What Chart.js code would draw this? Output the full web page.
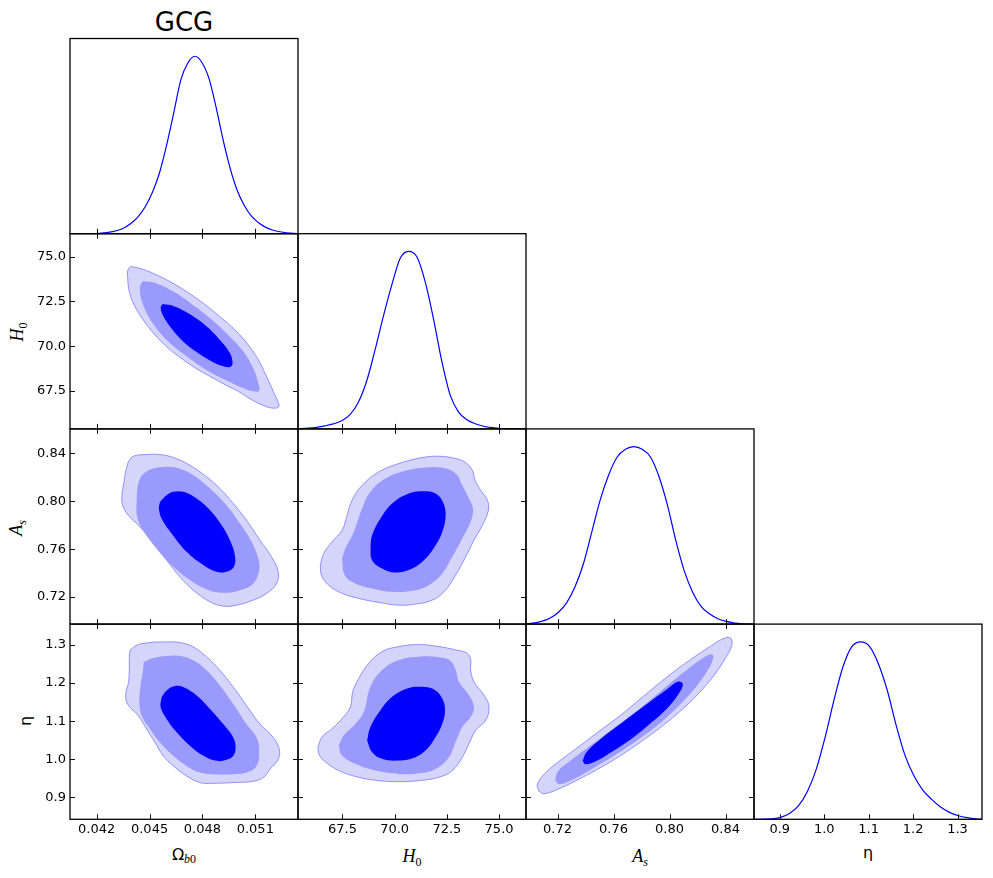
<!DOCTYPE html>
<html><head><meta charset="utf-8">
<script src="https://cdn.jsdelivr.net/npm/chart.js@4.4.1/dist/chart.umd.min.js"></script>
<style>
html,body{margin:0;padding:0;background:#fff;width:993px;height:878px;overflow:hidden;}
#wrap{position:relative;width:993px;height:878px;background:#fff;}
canvas{position:absolute;left:0;top:0;}
.lbl{position:absolute;color:#000;white-space:nowrap;}
.sans{font-family:'DejaVu Sans',sans-serif;}
.math{font-family:'Liberation Serif','DejaVu Serif',serif;font-style:italic;}
.sub{position:relative;top:4px;font-size:12px;}
.up{font-style:normal;}
.rot{transform:translate(-50%,-50%) rotate(-90deg);}
</style></head><body><div id="wrap">
<div class="lbl sans" style="left:70px;width:228px;top:10px;text-align:center;font-size:26px;line-height:25px">GCG</div>
<div class="lbl sans" style="left:70px;width:228px;top:845px;text-align:center;font-size:16px;line-height:20px">Ω<span class="sub math" style="font-size:12px;top:3px">b<span class="up">0</span></span></div>
<div class="lbl math" style="left:298px;width:228px;top:845px;text-align:center;font-size:18px;line-height:22px">H<span class="sub up">0</span></div>
<div class="lbl math" style="left:526px;width:228px;top:845px;text-align:center;font-size:18px;line-height:22px">A<span class="sub">s</span></div>
<div class="lbl sans" style="left:754px;width:228px;top:843px;text-align:center;font-size:16px;line-height:20px">η</div>
<div class="lbl math rot" style="left:17.5px;top:332px;font-size:18px;line-height:22px">H<span class="sub up">0</span></div>
<div class="lbl math rot" style="left:17px;top:527.5px;font-size:18px;line-height:22px">A<span class="sub">s</span></div>
<div class="lbl sans rot" style="left:25.5px;top:721px;font-size:16px;line-height:20px">η</div>
</div>
<script>
// ---------- tick values ----------
const OMEGA_TICKS = [0.042, 0.045, 0.048, 0.051];
const H0_TICKS = [67.5, 70.0, 72.5, 75.0];
const AS_TICKS = [0.72, 0.76, 0.80, 0.84];
const ETA_TICKS = [0.9, 1.0, 1.1, 1.2, 1.3];

// ---------- axis limits ----------
const OMEGA_LIM = [0.040485, 0.053423];
const H0_LIM = [65.37, 76.29];
const AS_LIM = [0.6975, 0.8603];
const ETA_LIM = [0.842, 1.355];
const PDF_LIM = [0, 1.1];

// ---------- 1D marginal curves (normalised to peak) ----------
const omegaGrid = [0.04049, 0.04197, 0.04257, 0.04317, 0.04357, 0.04397, 0.04437, 0.04477, 0.04517, 0.04557, 0.04597, 0.04637, 0.04677, 0.04717, 0.04757, 0.04797, 0.04837, 0.04877, 0.04917, 0.04957, 0.04997, 0.05037, 0.05077, 0.05117, 0.05157, 0.05197, 0.05257, 0.05317, 0.05342];
const omegaPdf  = [0, 0.001, 0.006, 0.018, 0.034, 0.06, 0.098, 0.155, 0.235, 0.345, 0.50, 0.68, 0.865, 0.962, 1.0, 0.965, 0.875, 0.715, 0.53, 0.37, 0.245, 0.16, 0.10, 0.063, 0.037, 0.021, 0.008, 0.002, 0];

const h0Grid = [65.37, 65.86, 66.26, 66.66, 67.06, 67.46, 67.86, 68.26, 68.66, 69.06, 69.46, 69.86, 70.26, 70.66, 71.06, 71.46, 71.86, 72.26, 72.66, 73.06, 73.46, 73.86, 74.26, 74.66, 75.06, 76.29];
const h0Pdf  = [0, 0.004, 0.009, 0.017, 0.028, 0.046, 0.08, 0.15, 0.27, 0.445, 0.635, 0.81, 0.96, 1.0, 0.97, 0.83, 0.62, 0.38, 0.19, 0.095, 0.052, 0.029, 0.015, 0.007, 0.002, 0];

const asGrid = [0.6975, 0.7025, 0.7085, 0.7145, 0.7205, 0.7265, 0.7325, 0.7385, 0.7445, 0.7505, 0.7565, 0.7625, 0.7685, 0.7745, 0.7805, 0.7865, 0.7925, 0.7985, 0.8045, 0.8105, 0.8165, 0.8225, 0.8285, 0.8345, 0.8405, 0.8465, 0.8525, 0.8603];
const asPdf  = [0.002, 0.005, 0.015, 0.033, 0.065, 0.12, 0.21, 0.34, 0.52, 0.70, 0.84, 0.94, 0.985, 1.0, 0.985, 0.94, 0.83, 0.67, 0.47, 0.30, 0.18, 0.10, 0.058, 0.03, 0.015, 0.006, 0.002, 0];

const etaGrid = [0.842, 0.8818, 0.9018, 0.9218, 0.9418, 0.9618, 0.9818, 1.0018, 1.0218, 1.0418, 1.0618, 1.0818, 1.1018, 1.1218, 1.1418, 1.1618, 1.1818, 1.2018, 1.2218, 1.2418, 1.2618, 1.2818, 1.3018, 1.3218, 1.3418, 1.355];
const etaPdf  = [0, 0.002, 0.011, 0.033, 0.075, 0.155, 0.28, 0.46, 0.67, 0.857, 0.972, 1.0, 0.975, 0.877, 0.727, 0.53, 0.36, 0.245, 0.165, 0.112, 0.069, 0.039, 0.020, 0.009, 0.002, 0];

// ---------- 2D contours (inner, middle, outer levels) ----------
// Omega_b0 vs H0
const omH0_outer = [[0.04393,74.46],[0.04446,74.35],[0.04521,74.07],[0.04616,73.61],[0.04710,73.05],[0.04805,72.40],[0.04899,71.65],[0.04984,70.91],[0.05060,70.07],[0.05117,69.24],[0.05164,68.31],[0.05202,67.47],[0.05230,66.85],[0.05232,66.59],[0.05192,66.54],[0.05145,66.69],[0.05079,67.00],[0.05003,67.47],[0.04937,67.80],[0.04861,68.21],[0.04776,68.68],[0.04691,69.24],[0.04606,69.89],[0.04531,70.63],[0.04464,71.47],[0.04413,72.30],[0.04385,73.05],[0.04376,73.79],[0.04377,74.26]];
const omH0_mid = [[0.04461,73.64],[0.04540,73.51],[0.04635,73.05],[0.04739,72.36],[0.04843,71.56],[0.04946,70.63],[0.05032,69.70],[0.05088,68.77],[0.05117,67.93],[0.05122,67.51],[0.05088,67.47],[0.05022,67.69],[0.04946,68.03],[0.04861,68.45],[0.04776,68.96],[0.04691,69.57],[0.04606,70.26],[0.04531,71.10],[0.04480,71.93],[0.04449,72.77],[0.04446,73.33]];
const omH0_in = [[0.04574,72.36],[0.04635,72.25],[0.04729,71.78],[0.04824,71.10],[0.04899,70.35],[0.04956,69.61],[0.04971,69.01],[0.04956,68.83],[0.04909,68.90],[0.04843,69.20],[0.04757,69.74],[0.04682,70.35],[0.04616,71.10],[0.04574,71.75],[0.04563,72.17]];

// Omega_b0 vs A_s
const omAs_outer = [[0.04379,0.8328],[0.04408,0.8375],[0.04483,0.8389],[0.04559,0.8389],[0.04635,0.8364],[0.04729,0.8300],[0.04824,0.8203],[0.04899,0.8106],[0.04975,0.7981],[0.05050,0.7842],[0.05126,0.7675],[0.05192,0.7536],[0.05230,0.7411],[0.05221,0.7314],[0.05164,0.7231],[0.05088,0.7175],[0.04994,0.7133],[0.04918,0.7125],[0.04843,0.7161],[0.04748,0.7258],[0.04672,0.7369],[0.04597,0.7508],[0.04521,0.7647],[0.04446,0.7786],[0.04379,0.7883],[0.04347,0.7967],[0.04343,0.8050],[0.04355,0.8161],[0.04366,0.8258]];
const omAs_mid = [[0.04455,0.8217],[0.04502,0.8264],[0.04578,0.8286],[0.04654,0.8278],[0.04748,0.8217],[0.04843,0.8106],[0.04937,0.7967],[0.05013,0.7814],[0.05079,0.7661],[0.05117,0.7522],[0.05122,0.7425],[0.05088,0.7314],[0.05013,0.7258],[0.04918,0.7236],[0.04824,0.7264],[0.04729,0.7342],[0.04635,0.7453],[0.04540,0.7606],[0.04464,0.7758],[0.04430,0.7869],[0.04427,0.8008],[0.04436,0.8147]];
const omAs_in = [[0.04559,0.7994],[0.04597,0.8050],[0.04635,0.8078],[0.04691,0.8078],[0.04767,0.8022],[0.04843,0.7925],[0.04909,0.7800],[0.04956,0.7675],[0.04984,0.7550],[0.04979,0.7453],[0.04937,0.7411],[0.04880,0.7411],[0.04805,0.7467],[0.04710,0.7578],[0.04625,0.7731],[0.04568,0.7856],[0.04553,0.7939]];

// Omega_b0 vs eta
const omEta_outer = [[0.04389,1.2862],[0.04427,1.2994],[0.04502,1.3065],[0.04597,1.3082],[0.04672,1.3065],[0.04748,1.2950],[0.04824,1.2686],[0.04899,1.2334],[0.04975,1.1894],[0.05050,1.1409],[0.05126,1.0925],[0.05202,1.0572],[0.05236,1.0264],[0.05230,1.0000],[0.05183,0.9736],[0.05145,0.9516],[0.05088,0.9419],[0.04975,0.9384],[0.04861,0.9366],[0.04786,0.9384],[0.04710,0.9560],[0.04635,0.9824],[0.04578,1.0088],[0.04531,1.0440],[0.04483,1.0793],[0.04436,1.1145],[0.04398,1.1321],[0.04370,1.1497],[0.04366,1.1761],[0.04379,1.1982],[0.04385,1.2290],[0.04385,1.2642]];
const omEta_mid = [[0.04468,1.2554],[0.04521,1.2660],[0.04597,1.2713],[0.04672,1.2713],[0.04748,1.2598],[0.04824,1.2334],[0.04899,1.1938],[0.04975,1.1453],[0.05050,1.0925],[0.05107,1.0572],[0.05122,1.0220],[0.05107,0.9824],[0.05050,0.9648],[0.04975,0.9604],[0.04880,0.9595],[0.04786,0.9648],[0.04710,0.9824],[0.04635,1.0088],[0.04559,1.0440],[0.04502,1.0793],[0.04455,1.1145],[0.04442,1.1497],[0.04449,1.1938],[0.04461,1.2290]];
const omEta_in = [[0.04568,1.1629],[0.04597,1.1805],[0.04644,1.1920],[0.04691,1.1894],[0.04767,1.1673],[0.04843,1.1321],[0.04918,1.0925],[0.04975,1.0572],[0.04988,1.0308],[0.04975,1.0088],[0.04937,0.9982],[0.04880,0.9956],[0.04805,1.0088],[0.04729,1.0352],[0.04654,1.0705],[0.04597,1.1057],[0.04563,1.1365]];

// H0 vs A_s
const h0As_outer = [[66.44,0.7467],[66.60,0.7564],[67.00,0.7661],[67.48,0.7758],[67.72,0.7883],[67.96,0.8008],[68.44,0.8133],[69.24,0.8244],[70.20,0.8314],[71.32,0.8364],[72.12,0.8375],[72.92,0.8356],[73.40,0.8322],[73.72,0.8258],[73.85,0.8175],[74.12,0.8092],[74.44,0.8008],[74.49,0.7925],[74.20,0.7800],[73.80,0.7675],[73.40,0.7536],[72.92,0.7383],[72.36,0.7244],[71.80,0.7175],[71.00,0.7142],[70.20,0.7133],[69.24,0.7156],[68.28,0.7189],[67.48,0.7231],[66.84,0.7300],[66.49,0.7383]];
const h0As_mid = [[67.48,0.7522],[67.64,0.7606],[68.04,0.7744],[68.44,0.7939],[68.84,0.8078],[69.56,0.8189],[70.52,0.8253],[71.48,0.8281],[72.28,0.8278],[72.92,0.8231],[73.24,0.8133],[73.56,0.8022],[73.75,0.7939],[73.64,0.7828],[73.24,0.7689],[72.76,0.7536],[72.28,0.7397],[71.64,0.7300],[70.84,0.7253],[69.88,0.7244],[68.92,0.7272],[68.12,0.7314],[67.61,0.7383]];
const h0As_in = [[68.84,0.7633],[68.92,0.7717],[69.32,0.7856],[69.88,0.7981],[70.68,0.8064],[71.40,0.8083],[71.96,0.8064],[72.31,0.7994],[72.44,0.7883],[72.28,0.7744],[71.96,0.7633],[71.48,0.7522],[70.84,0.7439],[70.04,0.7406],[69.40,0.7439],[68.92,0.7508]];

// H0 vs eta
const h0Eta_outer = [[66.33,1.0317],[66.52,1.0581],[67.00,1.0801],[67.48,1.1066],[67.88,1.1374],[67.99,1.1770],[68.28,1.2122],[68.76,1.2519],[69.40,1.2827],[70.20,1.2959],[71.16,1.3012],[72.12,1.2959],[72.92,1.2871],[73.48,1.2783],[73.64,1.2607],[73.64,1.2343],[73.80,1.2034],[74.28,1.1682],[74.52,1.1374],[74.36,1.1022],[73.88,1.0757],[73.56,1.0405],[73.24,1.0053],[72.76,0.9701],[72.12,0.9524],[71.16,0.9436],[70.20,0.9410],[69.24,0.9436],[68.28,0.9524],[67.32,0.9701],[66.60,0.9965],[66.36,1.0141]];
const h0Eta_mid = [[67.32,1.0361],[67.56,1.0625],[68.12,1.0934],[68.52,1.1242],[68.84,1.1902],[69.40,1.2343],[70.20,1.2607],[71.16,1.2695],[72.12,1.2677],[72.68,1.2580],[72.92,1.2343],[73.08,1.2034],[73.56,1.1682],[73.80,1.1374],[73.64,1.1110],[73.24,1.0845],[72.92,1.0449],[72.60,1.0053],[71.96,0.9745],[71.16,0.9630],[70.20,0.9613],[69.08,0.9701],[68.12,0.9877],[67.48,1.0097]];
const h0Eta_in = [[68.68,1.0493],[68.84,1.0845],[69.32,1.1286],[69.88,1.1638],[70.60,1.1858],[71.24,1.1902],[71.88,1.1832],[72.28,1.1594],[72.41,1.1286],[72.28,1.0934],[71.96,1.0581],[71.56,1.0273],[71.00,1.0053],[70.20,0.9965],[69.40,1.0009],[68.92,1.0185]];

// A_s vs eta
const asEta_outer = [[0.7066,0.9163],[0.7056,0.9339],[0.7104,0.9604],[0.7200,0.9912],[0.7328,1.0264],[0.7487,1.0705],[0.7647,1.1145],[0.7806,1.1629],[0.7966,1.2114],[0.8126,1.2554],[0.8285,1.2950],[0.8397,1.3188],[0.8438,1.3171],[0.8445,1.2994],[0.8397,1.2642],[0.8317,1.2202],[0.8205,1.1717],[0.8094,1.1321],[0.7966,1.0925],[0.7806,1.0484],[0.7647,1.0088],[0.7487,0.9736],[0.7328,0.9428],[0.7200,0.9207],[0.7104,0.9093]];
const asEta_mid = [[0.7184,0.9428],[0.7200,0.9664],[0.7296,0.9972],[0.7455,1.0412],[0.7615,1.0853],[0.7775,1.1293],[0.7934,1.1777],[0.8094,1.2262],[0.8221,1.2614],[0.8301,1.2757],[0.8311,1.2642],[0.8269,1.2318],[0.8174,1.1834],[0.8062,1.1393],[0.7934,1.0953],[0.7775,1.0512],[0.7615,1.0116],[0.7455,0.9764],[0.7328,0.9500],[0.7216,0.9341]];
const asEta_in = [[0.7380,0.9950],[0.7407,1.0180],[0.7519,1.0560],[0.7679,1.1010],[0.7838,1.1450],[0.7982,1.1840],[0.8062,1.2040],[0.8095,1.1970],[0.8062,1.1700],[0.7966,1.1270],[0.7838,1.0860],[0.7711,1.0490],[0.7583,1.0180],[0.7471,0.9940],[0.7398,0.9870]];

// ---------- layout ----------
const W = 993, H = 878;
const colEdges = [70, 298, 526, 754, 982];
const rowEdges = [38.5, 233.7, 428.9, 624.1, 819.3];
const Y_AXIS_W = 70, X_AXIS_H = 55;
const C_OUT = '#d5d5fb', C_MID = '#9a9afd', C_IN = '#0000ff', C_EDGE = 'rgba(110,110,255,0.9)';

Chart.defaults.font.family = "'DejaVu Sans', sans-serif";
Chart.defaults.font.size = 13;
Chart.defaults.color = '#000';

const fmt = {
  om: v => v.toFixed(3), h0: v => v.toFixed(1), as: v => v.toFixed(2), eta: v => v.toFixed(1), pdf: v => ''
};

function framePlugin(xt, yt, diag) {
  return {
    id: 'frameTicks',
    afterDraw(chart) {
      const { ctx, chartArea: a, scales } = chart;
      ctx.save();
      ctx.strokeStyle = '#111';
      ctx.lineWidth = 1;
      ctx.beginPath();
      xt.forEach(v => {
        const p = Math.round(scales.x.getPixelForValue(v)) + 0.5;
        ctx.moveTo(p, a.bottom); ctx.lineTo(p, a.bottom - 5);
        if (!diag) { ctx.moveTo(p, a.top); ctx.lineTo(p, a.top + 5); }
      });
      if (!diag) {
        yt.forEach(v => {
          const p = Math.round(scales.y.getPixelForValue(v)) + 0.5;
          ctx.moveTo(a.left, p); ctx.lineTo(a.left + 5, p);
          ctx.moveTo(a.right, p); ctx.lineTo(a.right - 5, p);
        });
      }
      ctx.stroke();
      ctx.strokeStyle = '#000';
      ctx.lineWidth = 1.3;
      ctx.strokeRect(a.left, a.top, a.width, a.height);
      ctx.restore();
    }
  };
}

function axis(pos, lim, ticks, f, show, pad) {
  return {
    type: 'linear', position: pos, min: lim[0], max: lim[1],
    afterFit: s => { if (pos === 'bottom') s.height = X_AXIS_H; else s.width = Y_AXIS_W; },
    afterBuildTicks: s => { s.ticks = ticks.map(v => ({ value: v })); },
    grid: { display: false, drawTicks: false },
    border: { display: false },
    ticks: { display: show, autoSkip: false, maxRotation: 0, minRotation: 0, padding: pad, color: '#000',
             font: { size: 13, family: "'DejaVu Sans', sans-serif" }, callback: v => f(v) }
  };
}

function toPts(arr) {
  const p = arr.map(([x, y]) => ({ x, y }));
  p.push({ x: arr[0][0], y: arr[0][1] });
  return p;
}

function contourSets(outer, mid, inner) {
  const base = { showLine: true, fill: 'shape', pointRadius: 0, tension: 0.4 };
  return [
    Object.assign({}, base, { data: toPts(inner), backgroundColor: C_IN, borderColor: 'rgba(0,0,0,0)', borderWidth: 0, order: 1 }),
    Object.assign({}, base, { data: toPts(mid), backgroundColor: C_MID, borderColor: 'rgba(0,0,0,0)', borderWidth: 0, order: 2 }),
    Object.assign({}, base, { data: toPts(outer), backgroundColor: C_OUT, borderColor: C_EDGE, borderWidth: 0.8, order: 3 })
  ];
}

function curveSet(xs, ys) {
  return [{ data: xs.map((x, i) => ({ x, y: ys[i] })), showLine: true, fill: false, pointRadius: 0,
            borderColor: '#0000ff', borderWidth: 1.2, cubicInterpolationMode: 'monotone' }];
}

const wrap = document.getElementById('wrap');
function panel(col, row, datasets, xs, ys, diag) {
  const cv = document.createElement('canvas');
  cv.width = W; cv.height = H;
  cv.style.width = W + 'px'; cv.style.height = H + 'px';
  wrap.appendChild(cv);
  new Chart(cv, {
    type: 'scatter',
    data: { datasets },
    options: {
      responsive: false, animation: false, events: [],
      layout: { padding: { left: colEdges[col] - Y_AXIS_W, right: W - colEdges[col + 1], top: rowEdges[row], bottom: H - rowEdges[row + 1] - X_AXIS_H } },
      plugins: { legend: { display: false }, tooltip: { enabled: false }, title: { display: false } },
      scales: {
        x: axis('bottom', xs.lim, xs.ticks, xs.fmt, row === 3, 3),
        y: axis('left', ys.lim, ys.ticks, ys.fmt, col === 0 && !diag, 4)
      }
    },
    plugins: [framePlugin(xs.ticks, ys.ticks, diag)]
  });
}

const AX = {
  om: { lim: OMEGA_LIM, ticks: OMEGA_TICKS, fmt: fmt.om },
  h0: { lim: H0_LIM, ticks: H0_TICKS, fmt: fmt.h0 },
  as: { lim: AS_LIM, ticks: AS_TICKS, fmt: fmt.as },
  eta: { lim: ETA_LIM, ticks: ETA_TICKS, fmt: fmt.eta },
  pdf: { lim: PDF_LIM, ticks: [], fmt: fmt.pdf }
};

// diagonal
panel(0, 0, curveSet(omegaGrid, omegaPdf), AX.om, AX.pdf, true);
panel(1, 1, curveSet(h0Grid, h0Pdf), AX.h0, AX.pdf, true);
panel(2, 2, curveSet(asGrid, asPdf), AX.as, AX.pdf, true);
panel(3, 3, curveSet(etaGrid, etaPdf), AX.eta, AX.pdf, true);
// 2D
panel(0, 1, contourSets(omH0_outer, omH0_mid, omH0_in), AX.om, AX.h0, false);
panel(0, 2, contourSets(omAs_outer, omAs_mid, omAs_in), AX.om, AX.as, false);
panel(0, 3, contourSets(omEta_outer, omEta_mid, omEta_in), AX.om, AX.eta, false);
panel(1, 2, contourSets(h0As_outer, h0As_mid, h0As_in), AX.h0, AX.as, false);
panel(1, 3, contourSets(h0Eta_outer, h0Eta_mid, h0Eta_in), AX.h0, AX.eta, false);
panel(2, 3, contourSets(asEta_outer, asEta_mid, asEta_in), AX.as, AX.eta, false);
</script>
</body></html>
